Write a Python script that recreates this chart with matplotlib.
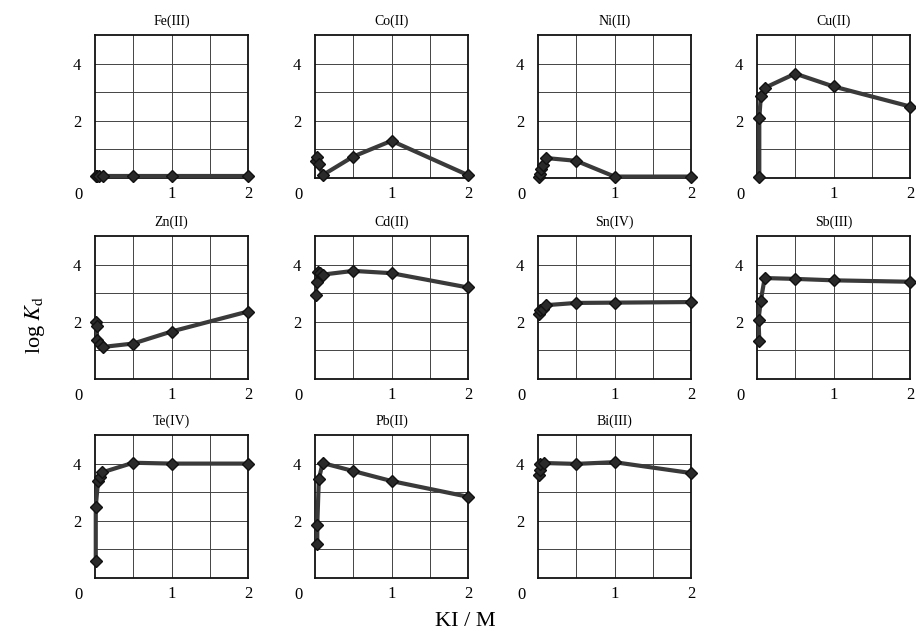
import matplotlib
matplotlib.use('Agg')
import matplotlib.pyplot as plt

plt.rcParams['font.family'] = ['Liberation Serif', 'DejaVu Serif']
plt.rcParams['mathtext.fontset'] = 'stix'

# distribution ratio data
names = ['Fe(III)', 'Co(II)', 'Ni(II)', 'Cu(II)',
         'Zn(II)', 'Cd(II)', 'Sn(IV)', 'Sb(III)',
         'Te(IV)', 'Pb(II)', 'Bi(III)']

ki = {
    'Fe(III)': [0.01, 0.02, 0.05, 0.1, 0.5, 1, 2],
    'Co(II)':  [0.01, 0.02, 0.05, 0.1, 0.5, 1, 2],
    'Ni(II)':  [0.01, 0.02, 0.04, 0.06, 0.1, 0.5, 1, 2],
    'Cu(II)':  [0.03, 0.03, 0.05, 0.1, 0.5, 1, 2],
    'Zn(II)':  [0.01, 0.02, 0.03, 0.06, 0.1, 0.5, 1, 2],
    'Cd(II)':  [0.01, 0.02, 0.04, 0.07, 0.1, 0.5, 1, 2],
    'Sn(IV)':  [0.01, 0.03, 0.06, 0.1, 0.5, 1, 2],
    'Sb(III)': [0.03, 0.02, 0.05, 0.1, 0.5, 1, 2],
    'Te(IV)':  [0.01, 0.01, 0.04, 0.07, 0.09, 0.5, 1, 2],
    'Pb(II)':  [0.03, 0.03, 0.05, 0.1, 0.5, 1, 2],
    'Bi(III)': [0.01, 0.02, 0.03, 0.08, 0.5, 1, 2],
}

logkd = {
    'Fe(III)': [0.08, 0.08, 0.08, 0.08, 0.08, 0.08, 0.08],
    'Co(II)':  [0.6, 0.75, 0.5, 0.1, 0.75, 1.3, 0.1],
    'Ni(II)':  [0.05, 0.15, 0.3, 0.45, 0.7, 0.6, 0.05, 0.05],
    'Cu(II)':  [0.05, 2.1, 2.85, 3.15, 3.65, 3.2, 2.5],
    'Zn(II)':  [2.0, 1.85, 1.35, 1.22, 1.12, 1.24, 1.66, 2.36],
    'Cd(II)':  [2.93, 3.38, 3.75, 3.72, 3.65, 3.78, 3.7, 3.2],
    'Sn(IV)':  [2.28, 2.4, 2.46, 2.58, 2.66, 2.67, 2.69],
    'Sb(III)': [1.33, 2.08, 2.74, 3.53, 3.5, 3.45, 3.4],
    'Te(IV)':  [0.6, 2.5, 3.4, 3.54, 3.69, 4.03, 4.0, 4.0],
    'Pb(II)':  [1.18, 1.87, 3.45, 4.02, 3.74, 3.39, 2.84],
    'Bi(III)': [3.59, 3.76, 3.99, 4.02, 3.99, 4.05, 3.67],
}

fig = plt.figure(figsize=(9.16, 6.39), dpi=100)
W, H = 916, 639
col_left = [95, 315, 538, 757]
row_top = [35, 236, 435]
aw, ah = 153, 143

for i, name in enumerate(names):
    r, c = divmod(i, 4)
    ax = fig.add_axes([col_left[c] / W, 1 - (row_top[r] + ah) / H, aw / W, ah / H])
    ax.set_xlim(0, 2)
    ax.set_ylim(0, 5)
    ax.set_xticks([0.5, 1, 1.5, 2])
    ax.set_xticklabels(['', '1', '', '2'])
    ax.set_yticks([1, 2, 3, 4])
    ax.set_yticklabels(['', '2', '', '4'])
    ax.tick_params(length=0, labelsize=12)
    ax.tick_params(axis='y', pad=10)
    ax.tick_params(axis='x', pad=6)
    ax.grid(True, color='#444444', linewidth=0.7)
    for sp in ax.spines.values():
        sp.set_linewidth(1.3)
        sp.set_color('#111111')
    ax.plot(ki[name], logkd[name], color='#3a3a3a', linewidth=3.0,
            marker='D', markersize=6.5, markerfacecolor='#2a2a2a',
            markeredgecolor='#111111', clip_on=False, zorder=5)
    ax.set_title(name, fontsize=10, pad=7)
    ax.text(-0.11, -0.06, '0', transform=ax.transAxes, fontsize=12,
            ha='center', va='top')

fig.text(35 / W, 1 - 325 / H, r'log $K_{\rm d}$', rotation=90,
         fontsize=16, ha='center', va='center')
fig.text(465 / W, 1 - 622 / H, 'KI / M', fontsize=16, ha='center', va='center')

fig.savefig('out.png', dpi=100)
